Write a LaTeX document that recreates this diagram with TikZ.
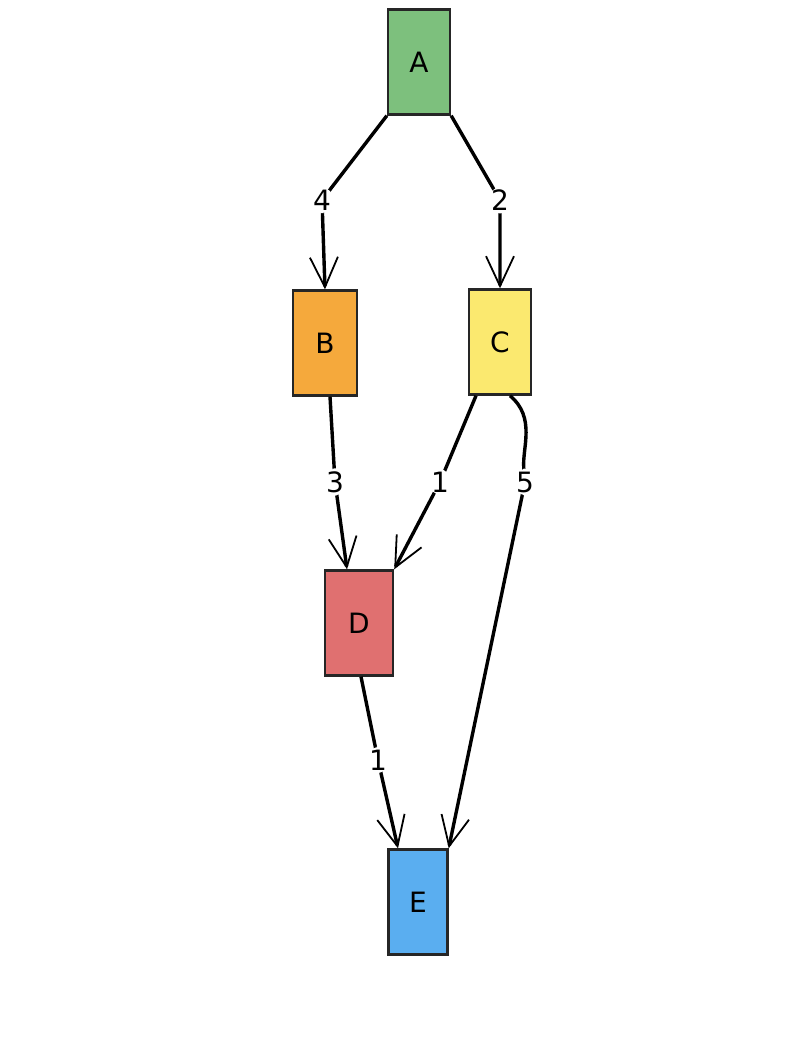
\documentclass[tikz,border=0pt]{standalone}
\usetikzlibrary{arrows.meta}
\usepackage{fontspec}
\setmainfont{DejaVu Sans}
\definecolor{cA}{HTML}{7DC07D}
\definecolor{cB}{HTML}{F5A93C}
\definecolor{cC}{HTML}{FBE96F}
\definecolor{cD}{HTML}{E07070}
\definecolor{cE}{HTML}{5AAEF0}
\begin{document}
\begin{tikzpicture}[x=1pt,y=-1pt,
  box/.style={draw=black!85,line width=2.4pt,minimum width=62pt,minimum height=105pt,inner sep=0pt,font=\fontsize{28}{30}\selectfont},
  edge/.style={draw=black,line width=3.4pt,rounded corners=14pt,-{Straight Barb[length=30pt,width=28pt,line width=1.8pt]}},
  lab/.style={fill=white,inner sep=3pt,font=\fontsize{28}{30}\selectfont}]
\useasboundingbox (0,0) rectangle (784,1056);
\node[box,fill=cA] (A) at (419,62) {A};
\node[box,fill=cB,minimum width=64pt] (B) at (325,343) {B};
\node[box,fill=cC] (C) at (500,342) {C};
\node[box,fill=cD,minimum width=68pt] (D) at (359,623) {D};
\node[box,fill=cE,minimum width=59pt] (E) at (418,902) {E};
\coordinate (lab4) at (322,200);
\coordinate (lab2) at (500,200);
\coordinate (lab3) at (335,482);
\coordinate (lab1a) at (440,482);
\coordinate (lab5) at (525,482);
\coordinate (lab1b) at (378,760);
\draw[edge] (A.south west) -- (lab4) node[lab]{4} -- (B.north);
\draw[edge] (A.south east) -- (lab2) node[lab]{2} -- (C.north);
\draw[edge] ([xshift=5pt]B.south) -- (lab3) node[lab]{3} -- ([xshift=-12pt]D.north);
\draw[edge] ([xshift=-24pt]C.south) -- (lab1a) node[lab]{1} -- (D.north east);
\draw[edge] ([xshift=10pt]C.south) to[out=-40,in=95] (lab5) node[lab]{5} -- (E.north east);
\draw[edge] ([xshift=2pt]D.south) -- (lab1b) node[lab]{1} -- ([xshift=-20pt]E.north);
\end{tikzpicture}
\end{document}
